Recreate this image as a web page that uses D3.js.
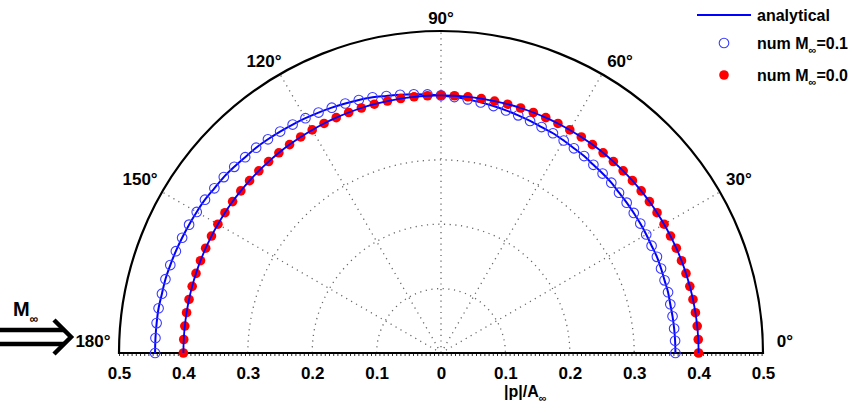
<!DOCTYPE html>
<html>
<head>
<meta charset="utf-8">
<script src="https://cdn.jsdelivr.net/npm/d3@7"></script>
<style>
  body { margin: 0; background: #fff; }
  svg { display: block; font-family: "Liberation Sans", Arial, sans-serif; }
</style>
</head>
<body>
<svg width="857" height="413"></svg>
<script>
// angles (deg) of the numerical samples
const angles = d3.range(0, 181, 3);
// |p|/A_inf, M = 0.1 (open blue circles)
const numM01 = [0.364, 0.364, 0.364, 0.364, 0.364, 0.365, 0.365, 0.366, 0.367, 0.367,
  0.368, 0.369, 0.370, 0.371, 0.372, 0.374, 0.375, 0.376, 0.378, 0.379,
  0.381, 0.383, 0.384, 0.386, 0.388, 0.390, 0.392, 0.394, 0.396, 0.398,
  0.400, 0.402, 0.404, 0.406, 0.408, 0.411, 0.413, 0.415, 0.417, 0.419,
  0.421, 0.423, 0.425, 0.427, 0.429, 0.430, 0.432, 0.434, 0.435, 0.437,
  0.438, 0.439, 0.440, 0.441, 0.442, 0.443, 0.443, 0.444, 0.444, 0.444, 0.444];
// M = 0.0 (filled red dots)
const numM00 = angles.map(() => 0.4);
const radialTicks = [-0.5, -0.4, -0.3, -0.2, -0.1, 0, 0.1, 0.2, 0.3, 0.4, 0.5];
const gridRings = [0.1, 0.2, 0.3, 0.4];
const spokeAngles = [30, 60, 90, 120, 150];
const angleLabels = [0, 30, 60, 90, 120, 150, 180];

const svg = d3.select('svg');
const cx = 441, cy = 353;
const rmax = 0.5;
const x = d3.scaleLinear().domain([-rmax, rmax]).range([cx - 322, cx + 322]);
const r = d3.scaleLinear().domain([0, rmax]).range([0, 322]);
const rad = d => d * Math.PI / 180;
const px = (a, v) => cx + r(v) * Math.cos(rad(a));
const py = (a, v) => cy - r(v) * Math.sin(rad(a));

const g = svg.append('g');

// dotted grid
const grid = g.append('g').attr('stroke', '#666').attr('stroke-width', 1.3)
  .attr('stroke-dasharray', '1.2,4.5').attr('fill', 'none');
grid.selectAll('path.ring').data(gridRings).join('path')
  .attr('class', 'ring')
  .attr('d', v => `M${px(180, v)},${cy} A${r(v)},${r(v)} 0 0 1 ${px(0, v)},${cy}`);
grid.selectAll('line.spoke').data(spokeAngles).join('line')
  .attr('class', 'spoke')
  .attr('x1', cx).attr('y1', cy)
  .attr('x2', a => px(a, rmax)).attr('y2', a => py(a, rmax));
grid.append('line').attr('x1', x(-rmax)).attr('x2', x(rmax)).attr('y1', cy + 1.5).attr('y2', cy + 1.5)
  .attr('stroke', '#333').attr('stroke-width', 3).attr('stroke-dasharray', '1,3.2');

// outer frame
g.append('path')
  .attr('d', `M${x(-rmax)},${cy} A${r(rmax)},${r(rmax)} 0 0 1 ${x(rmax)},${cy} Z`)
  .attr('fill', 'none').attr('stroke', '#000').attr('stroke-width', 2.2);

// radial tick labels
const xAxis = d3.axisBottom(x).tickValues(radialTicks).tickSize(0)
  .tickFormat(d => d3.format('')(Math.abs(+d.toFixed(1))));
g.append('g').attr('transform', `translate(0,${cy + 11})`).call(xAxis)
  .call(a => a.select('.domain').remove())
  .selectAll('text')
  .attr('font-size', 17).attr('font-weight', 'bold').attr('font-family', 'Liberation Sans, Arial, sans-serif')
  .attr('fill', '#000');

// angle labels
g.selectAll('text.ang').data(angleLabels).join('text')
  .attr('class', 'ang')
  .attr('x', a => cx + 344 * Math.cos(rad(a)) + (a === 60 ? 7 : a === 120 ? -5 : a === 150 ? -3 : a === 180 ? -4 : 0))
  .attr('y', a => cy - 335 * Math.sin(rad(a)) - 12 * (1 - Math.sin(rad(a))))
  .attr('text-anchor', 'middle').attr('dominant-baseline', 'central')
  .attr('font-size', 17).attr('font-weight', 'bold')
  .text(a => a + '°');

// curves
const line = d3.lineRadial().angle(d => rad(90 - d[0])).radius(d => r(d[1])).curve(d3.curveCatmullRom);
const blue = '#0000ff';
g.append('path').datum(angles.map((a, i) => [a, numM01[i]]))
  .attr('transform', `translate(${cx},${cy})`)
  .attr('d', line).attr('fill', 'none').attr('stroke', blue).attr('stroke-width', 2);
g.append('g').selectAll('circle').data(angles.map((a, i) => [a, numM01[i]])).join('circle')
  .attr('cx', d => px(d[0], d[1])).attr('cy', d => py(d[0], d[1])).attr('r', 4.8)
  .attr('fill', 'none').attr('stroke', '#3b3bff').attr('stroke-width', 1.1);
g.append('g').selectAll('circle').data(angles.map((a, i) => [a, numM00[i]])).join('circle')
  .attr('cx', d => px(d[0], d[1])).attr('cy', d => py(d[0], d[1])).attr('r', 4.8)
  .attr('fill', '#f00');
// line drawn over the dots
g.append('path').datum(angles.map((a, i) => [a, numM00[i]]))
  .attr('transform', `translate(${cx},${cy})`)
  .attr('d', line).attr('fill', 'none').attr('stroke', blue).attr('stroke-width', 1.8);

// axis title
const xt = g.append('text').attr('x', 504).attr('y', 397).attr('font-size', 16).attr('font-weight', 'bold');
xt.append('tspan').text('|p|/A');
xt.append('tspan').attr('dy', 5).attr('font-size', 11).text('∞');

// flow arrow
const arrow = g.append('g').attr('stroke', '#000').attr('fill', 'none').attr('stroke-width', 4.5);
arrow.append('line').attr('x1', 0).attr('x2', 64).attr('y1', 330).attr('y2', 330);
arrow.append('line').attr('x1', 0).attr('x2', 64).attr('y1', 344).attr('y2', 344);
arrow.append('path').attr('d', 'M54,320 L71,337 L54,354').attr('stroke-linejoin', 'miter');
const mt = g.append('text').attr('x', 13).attr('y', 316).attr('font-size', 20).attr('font-weight', 'bold');
mt.append('tspan').text('M');
mt.append('tspan').attr('dy', 7).attr('font-size', 12).text('∞');

// legend
const lg = g.append('g').attr('font-size', 16).attr('font-weight', 'bold');
lg.append('line').attr('x1', 697).attr('x2', 751).attr('y1', 15).attr('y2', 15)
  .attr('stroke', blue).attr('stroke-width', 2);
lg.append('circle').attr('cx', 724).attr('cy', 43).attr('r', 4.8)
  .attr('fill', 'none').attr('stroke', '#3b3bff').attr('stroke-width', 1.1);
lg.append('circle').attr('cx', 724).attr('cy', 75).attr('r', 4.8).attr('fill', '#f00');
lg.append('text').attr('x', 757).attr('y', 21).text('analytical');
[['0.1', 49], ['0.0', 81]].forEach(([m, y]) => {
  const t = lg.append('text').attr('x', 757).attr('y', y);
  t.append('tspan').text('num M');
  t.append('tspan').attr('dy', 5).attr('font-size', 11).text('∞');
  t.append('tspan').attr('dy', -5).text('=' + m);
});
</script>
</body>
</html>
